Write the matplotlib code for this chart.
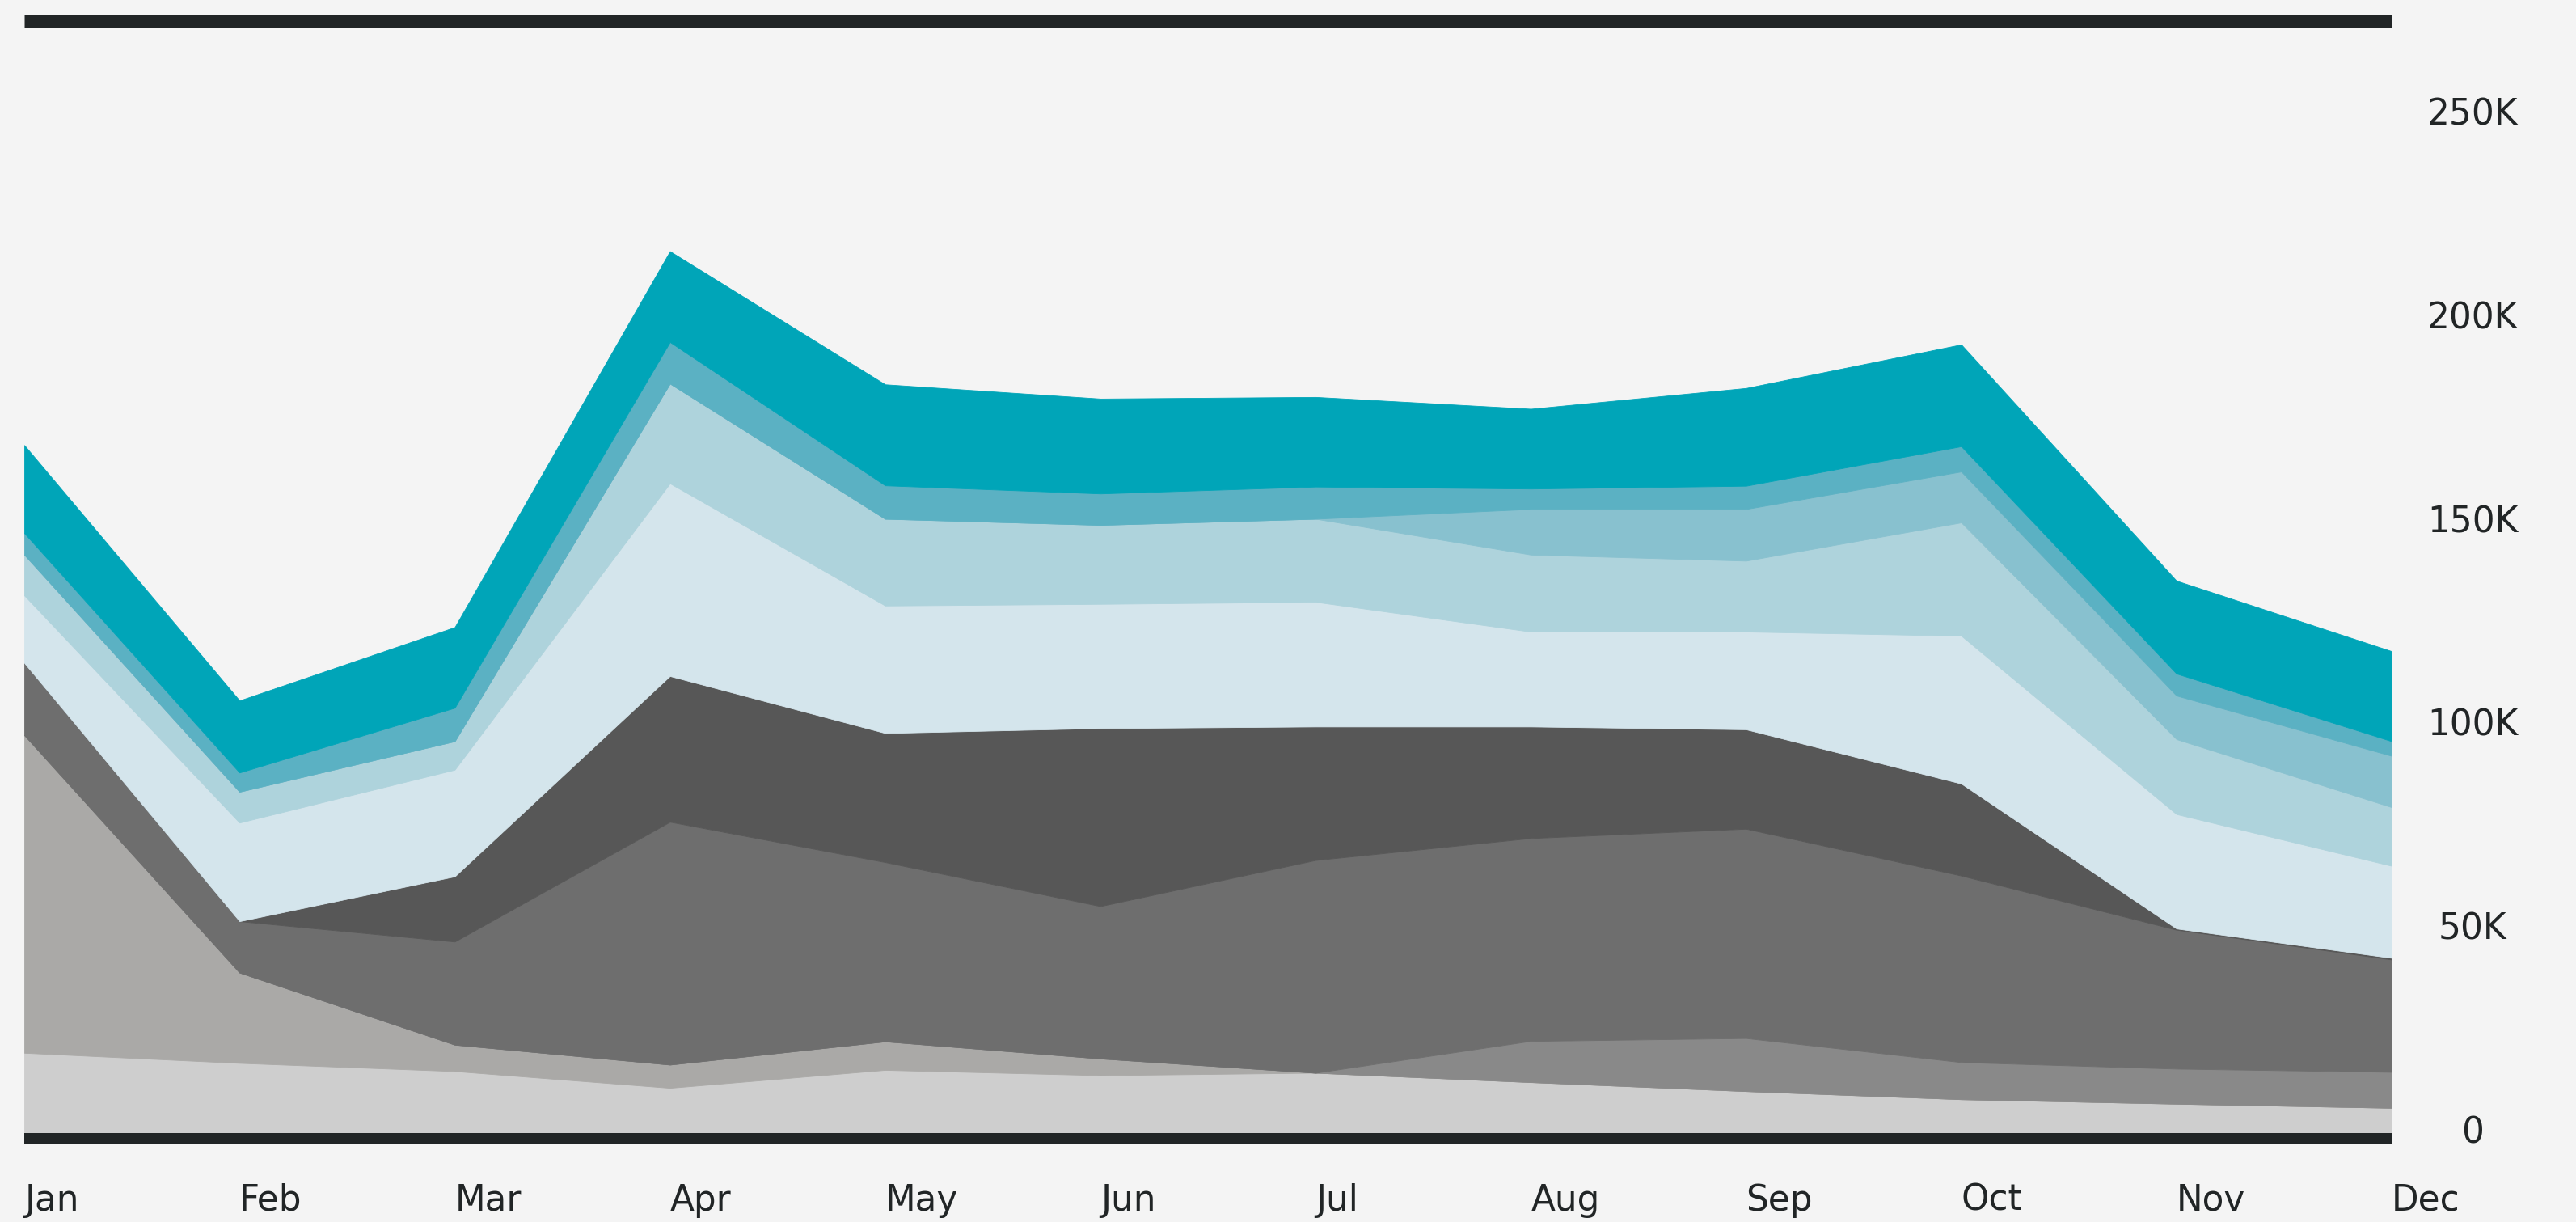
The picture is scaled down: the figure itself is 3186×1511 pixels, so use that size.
import matplotlib
matplotlib.use("Agg")
import matplotlib.pyplot as plt
import numpy as np

months = ["Jan", "Feb", "Mar", "Apr", "May", "Jun", "Jul", "Aug", "Sep", "Oct", "Nov", "Dec"]

# stacked series, bottom to top (values in units)
s_lightgray = [19700, 17200, 15200, 11100, 15500, 14200, 14800, 12500, 10300, 8300, 7200, 6200]
s_warmgray = [78000, 22200, 6500, 5700, 7000, 4100, 0, 0, 0, 0, 0, 0]
s_midgray = [0, 0, 0, 0, 0, 0, 0, 10100, 13000, 9100, 8600, 8800]
s_gray = [17700, 12600, 25300, 59600, 44000, 37400, 52200, 49800, 51400, 45800, 34100, 27600]
s_darkgray = [0, 0, 16000, 35800, 31700, 43700, 32800, 27400, 24400, 22600, 300, 400]
s_verylightblue = [16600, 24200, 26200, 47300, 31300, 30500, 30600, 23300, 24000, 36300, 28100, 22600]
s_lightblue = [10000, 7600, 7000, 24500, 21300, 19400, 20400, 18900, 17400, 27800, 18400, 14400]
s_medblue = [0, 0, 0, 0, 0, 0, 0, 11200, 12700, 12500, 10700, 12600]
s_blue = [5300, 4700, 8200, 10200, 8200, 7700, 7900, 5000, 5700, 6200, 5400, 3600]
s_teal = [21600, 17700, 19800, 22300, 24800, 23300, 22000, 19600, 24000, 25000, 22800, 22100]

series = [s_lightgray, s_warmgray, s_midgray, s_gray, s_darkgray,
          s_verylightblue, s_lightblue, s_medblue, s_blue, s_teal]
colors = ["#cecece", "#aaa9a7", "#898989", "#6e6e6e", "#575757",
          "#d4e5ec", "#aed3dc", "#88c1cf", "#5bb1c3", "#00a5b8"]

ytick_vals = [0, 50000, 100000, 150000, 200000, 250000]
ytick_labels = ["0", "50K", "100K", "150K", "200K", "250K"]

W, H, DPI = 3186, 1511, 100
bg = "#f4f4f4"
ink = "#212526"

fig = plt.figure(figsize=(W / DPI, H / DPI), dpi=DPI, facecolor=bg)
left_px, right_px = 30, 2958
zero_px, top_px = 1401, 25.5
ax = fig.add_axes([left_px / W, (H - zero_px) / H,
                   (right_px - left_px) / W, (zero_px - top_px) / H])
ax.set_facecolor(bg)

x = np.arange(len(months))
ax.stackplot(x, *series, colors=colors, linewidth=0.6, edgecolor="face")

ax.set_xlim(0, len(months) - 1)
ax.set_ylim(0, 273100)

for side in ["left", "right"]:
    ax.spines[side].set_visible(False)
lw_bottom = 14 * 72 / DPI
lw_top = 17 * 72 / DPI
ax.spines["bottom"].set_linewidth(lw_bottom)
ax.spines["bottom"].set_color(ink)
ax.spines["bottom"].set_position(("outward", 7 * 72 / DPI))
ax.spines["bottom"].set_capstyle("butt")
ax.spines["top"].set_linewidth(lw_top)
ax.spines["top"].set_color(ink)
ax.spines["top"].set_capstyle("butt")

fs = 31.5
ax.set_xticks(x)
ax.set_xticklabels(months, fontsize=fs, color=ink)
ax.tick_params(axis="x", length=0, pad=55)
for lbl in ax.get_xticklabels():
    lbl.set_ha("left")
    lbl.set_va("center")

ax.yaxis.tick_right()
ax.set_yticks(ytick_vals)
ax.set_yticklabels(ytick_labels, fontsize=fs, color=ink)
ax.tick_params(axis="y", length=0, pad=72)
for lbl in ax.get_yticklabels():
    lbl.set_ha("center")
    lbl.set_va("center")

fig.savefig("out.png", dpi=DPI, facecolor=bg)
